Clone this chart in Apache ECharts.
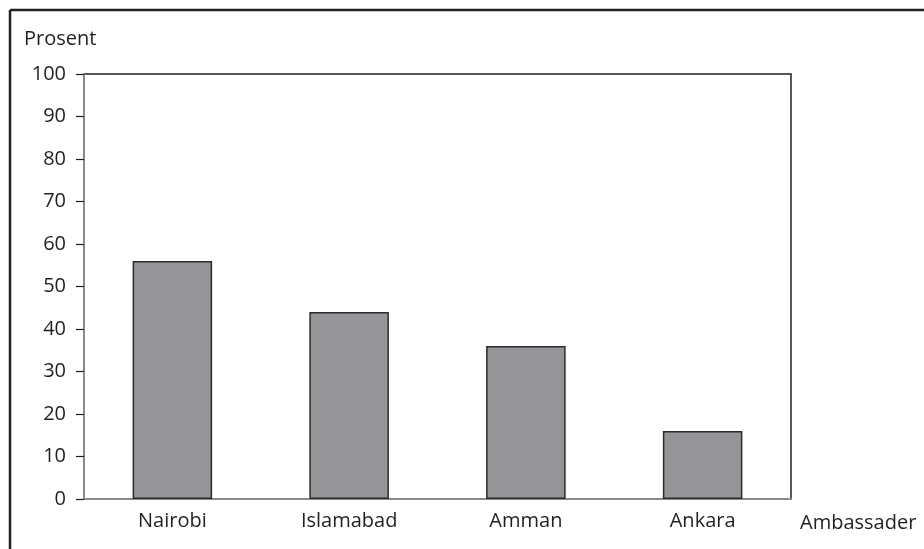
<!DOCTYPE html>
<html>
<head>
<meta charset="utf-8">
<script src="https://cdn.jsdelivr.net/npm/echarts@6/dist/echarts.min.js"></script>
<style>
  html, body { margin: 0; padding: 0; background: #fff; }
  #chart { width: 924px; height: 549px; }
</style>
</head>
<body>
<div id="chart"></div>
<script>
// data
const categories = ['Nairobi', 'Islamabad', 'Amman', 'Ankara']
const values = [56, 44, 36, 16]
const yTicks = [0, 10, 20, 30, 40, 50, 60, 70, 80, 90, 100]

const font = '"Open Sans", "Noto Sans", sans-serif'
const chart = echarts.init(document.getElementById('chart'))

chart.setOption({
  animation: false,
  textStyle: { fontFamily: font },
  title: {
    text: 'Prosent',
    left: 19,
    top: 24,
    textStyle: { fontFamily: font, fontSize: 20, fontWeight: 'normal', color: '#231f20' }
  },
  // outer frame (top and left edges)
  graphic: [
    { type: 'line', shape: { x1: 10, y1: 10, x2: 924, y2: 10 }, style: { stroke: '#231f20', lineWidth: 2.5 } },
    { type: 'line', shape: { x1: 10, y1: 10, x2: 10, y2: 549 }, style: { stroke: '#231f20', lineWidth: 2.5 } }
  ],
  grid: {
    left: 84,
    right: 133,
    top: 74,
    bottom: 50,
    show: true,
    borderColor: '#231f20',
    borderWidth: 1.5
  },
  xAxis: {
    type: 'category',
    data: categories,
    name: 'Ambassader',
    nameLocation: 'end',
    nameGap: 9,
    nameTextStyle: { fontSize: 20, color: '#231f20', verticalAlign: 'top', padding: [14, 0, 0, 0] },
    axisLine: { lineStyle: { color: '#8a8a8d', width: 2 } },
    axisTick: { show: false },
    axisLabel: { fontSize: 20, color: '#231f20', margin: 12 }
  },
  yAxis: {
    type: 'value',
    min: 0,
    max: 100,
    interval: 10,
    axisLine: { show: true, lineStyle: { color: '#8a8a8d', width: 2 } },
    axisTick: { show: true, length: 8, lineStyle: { color: '#231f20', width: 1.2 } },
    splitLine: { show: false },
    axisLabel: {
      fontSize: 20,
      color: '#231f20',
      margin: 18,
      formatter: v => yTicks.includes(v) ? String(v) : ''
    }
  },
  series: [{
    type: 'bar',
    data: values,
    barWidth: '45%',
    itemStyle: { color: '#939598', borderColor: '#2b2b2b', borderWidth: 1.5 }
  }]
})
</script>
</body>
</html>
